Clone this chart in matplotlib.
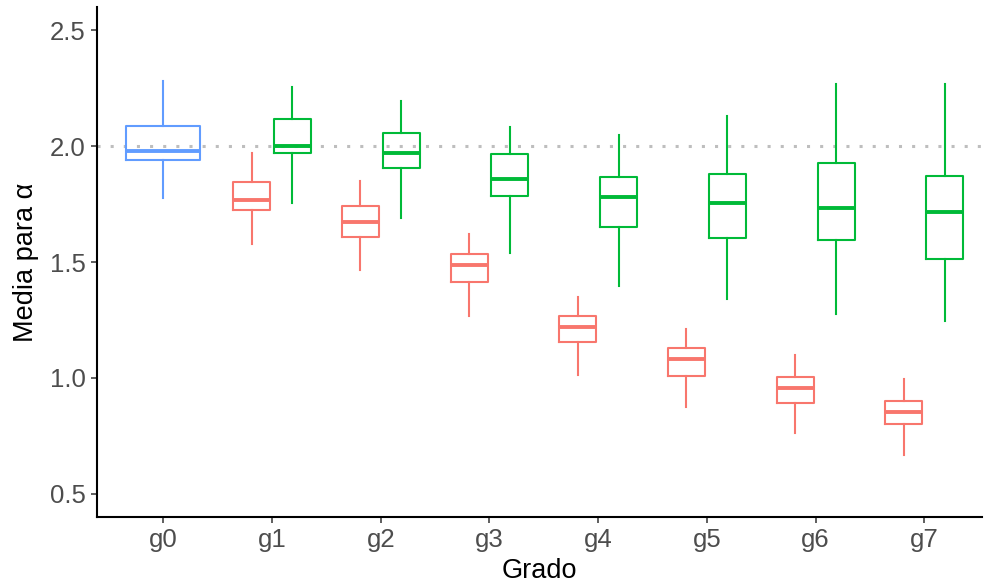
import matplotlib
matplotlib.use("Agg")
import matplotlib.pyplot as plt

plt.rcParams['font.family'] = ['Liberation Sans', 'DejaVu Sans']

grados = ["g0", "g1", "g2", "g3", "g4", "g5", "g6", "g7"]

# g0 (single box)
g0_stats = [2.28, 2.086, 1.978, 1.94, 1.776]  # whishi, q3, med, q1, whislo

# red series (g1..g7)
rojo_hi = [1.97, 1.849, 1.621, 1.349, 1.211, 1.099, 0.996]
rojo_q3 = [1.845, 1.741, 1.534, 1.267, 1.129, 1.004, 0.901]
rojo_med = [1.767, 1.672, 1.487, 1.220, 1.082, 0.957, 0.853]
rojo_q1 = [1.724, 1.608, 1.414, 1.155, 1.009, 0.892, 0.802]
rojo_lo = [1.578, 1.466, 1.267, 1.013, 0.875, 0.763, 0.668]

# green series (g1..g7)
verde_hi = [2.254, 2.194, 2.082, 2.047, 2.129, 2.267, 2.267]
verde_q3 = [2.116, 2.056, 1.966, 1.866, 1.879, 1.927, 1.871]
verde_med = [2.000, 1.970, 1.858, 1.780, 1.754, 1.733, 1.716]
verde_q1 = [1.970, 1.905, 1.784, 1.651, 1.603, 1.595, 1.513]
verde_lo = [1.754, 1.690, 1.539, 1.397, 1.340, 1.276, 1.246]


def make_stats(hi, q3, med, q1, lo):
    return [{"whishi": a, "q3": b, "med": c, "q1": d, "whislo": e, "fliers": []}
            for a, b, c, d, e in zip(hi, q3, med, q1, lo)]


def draw(ax, stats, pos, width, color):
    ax.bxp(stats, positions=pos, widths=width, showcaps=False, showfliers=False,
           patch_artist=False,
           boxprops=dict(color=color, linewidth=1.5),
           whiskerprops=dict(color=color, linewidth=1.5),
           medianprops=dict(color=color, linewidth=2.8, solid_capstyle="butt"),
           manage_ticks=False)


fig = plt.figure(figsize=(9.84, 5.85), dpi=100)
ax = fig.add_axes([97 / 984, (585 - 517) / 585, (982 - 97) / 984, (517 - 7) / 585])

ax.axhline(2.0, color="#BEBEBE", linestyle=(0, (1, 3.3)), linewidth=2.2, zorder=0)

draw(ax, make_stats([g0_stats[0]], [g0_stats[1]], [g0_stats[2]], [g0_stats[3]], [g0_stats[4]]),
     [0], 0.68, "#619CFF")
xs = list(range(1, len(grados)))
draw(ax, make_stats(rojo_hi, rojo_q3, rojo_med, rojo_q1, rojo_lo),
     [x - 0.188 for x in xs], 0.34, "#F8766D")
draw(ax, make_stats(verde_hi, verde_q3, verde_med, verde_q1, verde_lo),
     [x + 0.188 for x in xs], 0.34, "#00BA38")

ax.set_xlim(-0.61, 7.53)
ax.set_ylim(0.40, 2.60)
ax.set_xticks(range(len(grados)))
ax.set_xticklabels(grados)
ax.set_yticks([0.5, 1.0, 1.5, 2.0, 2.5])
ax.set_yticklabels(["0.5", "1.0", "1.5", "2.0", "2.5"])

for s in ["top", "right"]:
    ax.spines[s].set_visible(False)
for s in ["left", "bottom"]:
    ax.spines[s].set_linewidth(1.5)
ax.tick_params(axis="both", length=4, width=1.1, color="#333333",
               labelsize=18.5, labelcolor="#4D4D4D", pad=4)

ax.set_xlabel("Grado", fontsize=19.5, labelpad=4)
ax.set_ylabel("Media para α", fontsize=19.5, labelpad=8)

fig.savefig("out.png", dpi=100)
